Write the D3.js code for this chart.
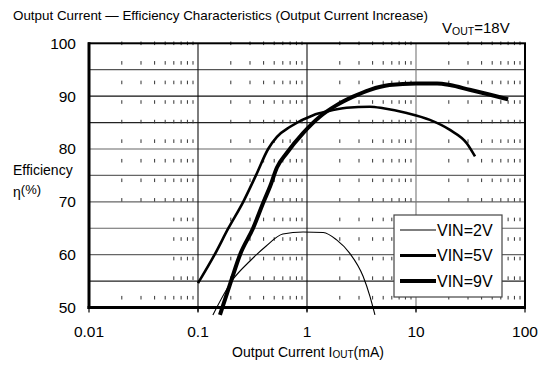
<!DOCTYPE html>
<html><head><meta charset="utf-8">
<script src="https://cdn.jsdelivr.net/npm/d3@7"></script>
<style>body{margin:0;background:#fff}svg{display:block}text{font-family:"Liberation Sans",Arial,sans-serif;fill:#000}</style>
</head><body><svg id="c" width="542" height="365"></svg>
<script>
const xTicks = [0.01, 0.1, 1, 10, 100];
const xTickLabels = ["0.01", "0.1", "1", "10", "100"];
const yTicks = [50, 60, 70, 80, 90, 100];
const yGrid = [55, 60, 65, 70, 75, 80, 85, 90, 95];
const seriesNames = ["VIN=2V", "VIN=5V", "VIN=9V"];
const vin2 = [[0.137,48.6],[0.209,55.3],[0.3,58.8],[0.42,61.6],[0.6,63.9],[0.92,64.3],[1.41,64.2],[1.87,62.8],[2.46,60.3],[3.27,55.9],[3.78,52.1],[4.2,48.6]];
const vin5 = [[0.1,54.6],[0.142,60],[0.19,65],[0.26,70],[0.34,75],[0.44,80],[0.53,82.3],[0.70,84.2],[1.14,86.4],[1.52,87.1],[2.31,87.8],[3.78,88],[5.01,87.7],[8.22,86.8],[13.4,85.5],[20.5,83.6],[29.2,81.1],[34.8,78.6]];
const vin9 = [[0.159,48.6],[0.201,55],[0.243,60],[0.32,65],[0.40,70],[0.46,73],[0.53,76.5],[0.65,79.2],[0.92,83],[1.31,86.1],[1.87,88.3],[2.65,89.9],[3.78,91.2],[5.7,92.1],[10,92.4],[15.6,92.4],[20.5,92.1],[31,91.2],[47,90.3],[70,89.4]];

const svg = d3.select("#c");
const x = d3.scaleLog().domain([0.01, 100]).range([89, 525]);
const y = d3.scaleLinear().domain([50, 100]).range([307.5, 43.3]);

// title
svg.append("text").attr("x", 13).attr("y", 19.5).attr("font-size", 13.4)
  .text("Output Current \u2014 Efficiency Characteristics (Output Current Increase)");
const vt = svg.append("text").attr("x", 442).attr("y", 33).attr("font-size", 15);
vt.append("tspan").text("V");
vt.append("tspan").attr("font-size", 10.5).attr("dy", 2).text("OUT");
vt.append("tspan").attr("dy", -2).text("=18V");

// horizontal grid
const hColors = {95:"#555",90:"#111",85:"#222",80:"#666",75:"#666",70:"#666",65:"#666",60:"#666",55:"#222"};
svg.append("g").selectAll("line").data(yGrid).join("line")
  .attr("x1", x(0.01)).attr("x2", x(100)).attr("y1", d => y(d)).attr("y2", d => y(d))
  .attr("stroke", d => hColors[d]).attr("stroke-width", 1.2);

// vertical major grid
const vColors = {0.1:"#111",1:"#111",10:"#777"};
svg.append("g").selectAll("line").data([0.1, 1, 10]).join("line")
  .attr("x1", d => x(d)).attr("x2", d => x(d)).attr("y1", y(100)).attr("y2", y(50) + 4)
  .attr("stroke", d => vColors[d]).attr("stroke-width", 1.1);

// minor dashed ticks
const minors = [];
[0.01, 0.1, 1, 10].forEach(dec => { for (let k = 2; k <= 9; k++) minors.push(dec * k); });
const period = (y(50) - y(100)) / 13.5;
const tickYs = d3.range(0, 14).map(i => y(100) + i * period);
const mg = svg.append("g");
minors.forEach(m => {
  tickYs.forEach(ty => {
    if (m < 0.055 && ty > y(70) + 5 && ty < y(53)) return;
    mg.append("line").attr("x1", x(m)).attr("x2", x(m)).attr("y1", ty - 1.8).attr("y2", ty + 1.8)
      .attr("stroke", "#333").attr("stroke-width", 1);
  });
});

// axis ticks below
svg.append("g").selectAll("line").data(xTicks).join("line")
  .attr("x1", d => x(d)).attr("x2", d => x(d)).attr("y1", y(50)).attr("y2", y(50) + 5)
  .attr("stroke", "#000").attr("stroke-width", 1.2);

// border
svg.append("rect").attr("x", x(0.01)).attr("y", y(100)).attr("width", x(100) - x(0.01)).attr("height", y(50) - y(100))
  .attr("fill", "none").attr("stroke", "#000").attr("stroke-width", 2);
svg.append("line").attr("x1", x(0.01)).attr("x2", x(0.01)).attr("y1", y(100) - 1).attr("y2", y(50) + 1.5).attr("stroke", "#000").attr("stroke-width", 3);
svg.append("line").attr("x1", x(0.01) - 1.5).attr("x2", x(100) + 1).attr("y1", y(50)).attr("y2", y(50)).attr("stroke", "#000").attr("stroke-width", 3);

// tick labels
svg.append("g").selectAll("text").data(yTicks).join("text")
  .attr("x", 76).attr("y", d => y(d)).attr("dy", "0.35em").attr("text-anchor", "end").attr("font-size", 15.5)
  .text(d => d);
svg.append("g").selectAll("text").data(xTicks).join("text")
  .attr("x", d => x(d)).attr("y", 337).attr("text-anchor", "middle").attr("font-size", 15.5)
  .text((d, i) => xTickLabels[i]);

// axis titles
const xt = svg.append("text").attr("x", 308).attr("y", 357).attr("text-anchor", "middle").attr("font-size", 14);
xt.append("tspan").text("Output Current I");
xt.append("tspan").attr("font-size", 10).attr("dy", 1).text("OUT");
xt.append("tspan").attr("dy", -1).text("(mA)");
svg.append("text").attr("x", 13).attr("y", 174.5).attr("font-size", 14).text("Efficiency");
const eta = svg.append("text").attr("x", 13).attr("y", 197).attr("font-size", 14);
eta.append("tspan").text("\u03b7");
eta.append("tspan").attr("dy", -3).attr("font-size", 13).text("(%)");

// curves
const line = d3.line().x(d => x(d[0])).y(d => y(d[1])).curve(d3.curveMonotoneX);
const series = [vin2, vin5, vin9];
const widths = [1.1, 2.6, 4];
svg.append("g").selectAll("path").data(series).join("path")
  .attr("d", line).attr("fill", "none").attr("stroke", "#000")
  .attr("stroke-width", (d, i) => widths[i]).attr("stroke-linejoin", "round");

// legend
const lg = svg.append("g");
lg.append("rect").attr("x", 394).attr("y", 215).attr("width", 108).attr("height", 82)
  .attr("fill", "#fff").attr("stroke", "#444").attr("stroke-width", 1.2);
const legW = [1.1, 3, 4];
seriesNames.forEach((n, i) => {
  const cy = 230 + i * 25.5;
  lg.append("line").attr("x1", 400).attr("x2", 436).attr("y1", cy).attr("y2", cy).attr("stroke", "#000").attr("stroke-width", legW[i]);
  lg.append("text").attr("x", 437).attr("y", cy).attr("dy", "0.36em").attr("font-size", 16).text(n);
});
</script></body></html>
